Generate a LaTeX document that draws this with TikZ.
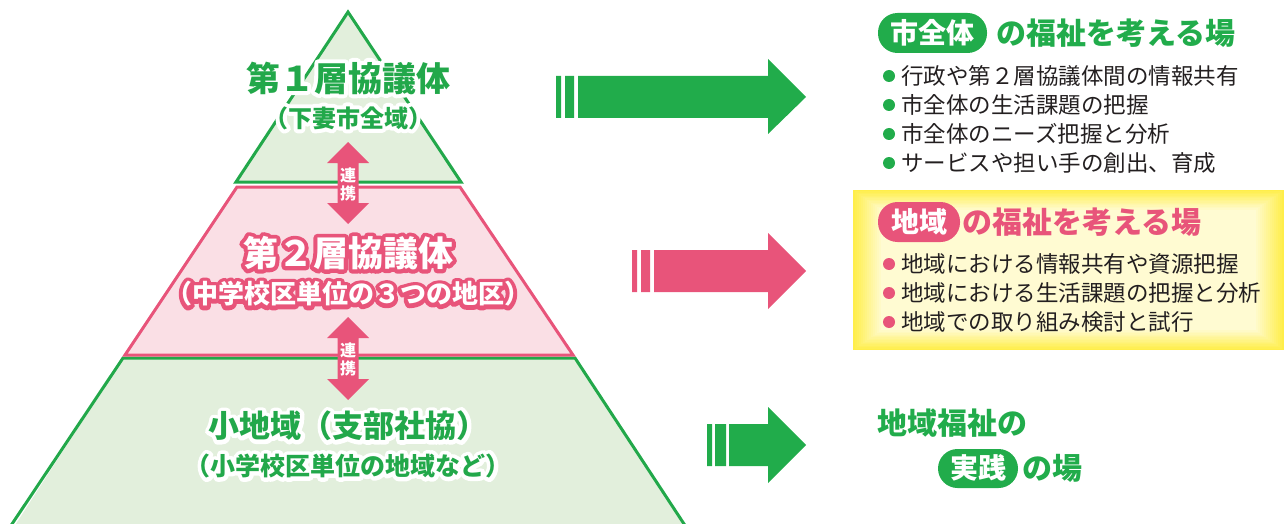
\documentclass[tikz,border=0pt]{standalone}
\usepackage{fontspec}
\newfontfamily\jp{Noto Sans CJK JP}
\usetikzlibrary{calc}
\definecolor{pgreen}{HTML}{22A84A}
\definecolor{agreen}{HTML}{21AC4B}
\definecolor{ppink}{HTML}{E8547A}
\definecolor{lgreen}{HTML}{E2EFDC}
\definecolor{lpink}{HTML}{FADFE5}
\definecolor{txt}{HTML}{231F20}
\definecolor{yedge}{HTML}{FFEE4A}
\definecolor{ycent}{HTML}{FFFBD2}
\newcommand\halonode[7]{%
  \node[text=#3, font=\jp\bfseries\fontsize{#5}{#5}\selectfont] at (#2)
    {\special{pdf:literal direct 1 Tr #7 w 1 j}#6\special{pdf:literal direct 0 Tr}};
  \node[text=#4, font=\jp\bfseries\fontsize{#5}{#5}\selectfont] (#1) at (#2) {#6};}
\begin{document}
\begin{tikzpicture}[x=1pt,y=-1pt, every node/.style={inner sep=0pt},
  layer/.style={line width=3pt, line join=miter},
  bigtitle/.style={font=\jp\bfseries\fontsize{30}{30}\selectfont, anchor=west},
  bullettext/.style={font=\jp\fontsize{22.5}{22.5}\selectfont, text=txt, anchor=west},
  pilltext/.style={font=\jp\bfseries\fontsize{28}{28}\selectfont, text=white},
  renkei/.style={font=\jp\bfseries\fontsize{16}{16}\selectfont, text=white}]
\useasboundingbox (0,0) rectangle (1287,524);

% pyramid layers
\fill[lgreen] (12,530) -- (123,358) -- (575,358) -- (688,530) -- cycle;
\draw[pgreen, layer] (8,530) -- (123,358) -- (575,358) -- (688,530);
\draw[ppink, layer, fill=lpink] (125,355) -- (237,187) -- (460,187) -- (573,355) -- cycle;
\draw[pgreen, layer, fill=lgreen] (348,12) -- (236,182) -- (461,182) -- cycle;

% layer texts
\halonode{l1a}{348,78}{white}{pgreen}{34}{第１層協議体}{8}
\halonode{l1b}{348,118}{white}{pgreen}{24}{（下妻市全域）}{8}
\halonode{l2a}{348,253}{ppink}{white}{35}{第２層協議体}{8}
\halonode{l2b}{348,294}{ppink}{white}{26}{（中学校区単位の３つの地区）}{8}
\halonode{l3a}{348,426}{white}{pgreen}{31}{小地域（支部社協）}{8}
\halonode{l3b}{348,466}{white}{pgreen}{25}{（小学校区単位の地域など）}{8}

% renkei arrows
\fill[ppink] (348,142) -- (369,163) -- (358.5,163) -- (358.5,203) -- (369,203) -- (348,224) -- (327,203) -- (337.5,203) -- (337.5,163) -- (327,163) -- cycle;
\node[renkei] (r1a) at (348,175) {連};
\node[renkei] (r1b) at (348,193) {携};
\fill[ppink] (348,317) -- (369,338) -- (358.5,338) -- (358.5,379) -- (369,379) -- (348,400) -- (327,379) -- (337.5,379) -- (337.5,338) -- (327,338) -- cycle;
\node[renkei] (r2a) at (348,350) {連};
\node[renkei] (r2b) at (348,368) {携};

% big arrows
\fill[agreen] (556,76) rectangle (561,118) (565,76) rectangle (574,118);
\fill[agreen] (578,76) -- (768,76) -- (768,59) -- (806,97) -- (768,134) -- (768,118) -- (578,118) -- cycle;
\fill[ppink] (632,250) rectangle (637,292) (641,250) rectangle (650,292);
\fill[ppink] (654,250) -- (768,250) -- (768,233) -- (806,271) -- (768,309) -- (768,292) -- (654,292) -- cycle;
\fill[agreen] (707,424) rectangle (712,466) (715,424) rectangle (726,466);
\fill[agreen] (729,424) -- (768,424) -- (768,407) -- (806,445) -- (768,483) -- (768,466) -- (729,466) -- cycle;

% panel 1
\fill[agreen, rounded corners=19.5] (878,13) rectangle (987,53);
\node[pilltext] (p1) at (932.5,33) {市全体};
\node[bigtitle, text=agreen] (t1) at (996,33) {の福祉を考える場};
\foreach \y/\t [count=\k] in {76/行政や第２層協議体間の情報共有, 105/市全体の生活課題の把握, 134/市全体のニーズ把握と分析, 163/サービスや担い手の創出、育成}{
  \fill[agreen] (889,\y) circle (6);
  \node[bullettext] (b1\k) at (901,\y) {\t};
}

% panel 2
\foreach \i in {0,...,14}{
  \pgfmathtruncatemacro\p{\i*100/14}
  \fill[ycent!\p!yedge] (853+\i*2,190+\i*1.4) rectangle (1284-\i*2,350-\i*1.4);
}
\fill[ppink, rounded corners=19.5] (878,202) rectangle (960,242);
\node[pilltext] (p2) at (919,222) {地域};
\node[bigtitle, text=ppink] (t2) at (962,222) {の福祉を考える場};
\foreach \y/\t [count=\k] in {264/地域における情報共有や資源把握, 293/地域における生活課題の把握と分析, 322/地域での取り組み検討と試行}{
  \fill[ppink] (889,\y) circle (6);
  \node[bullettext] (b2\k) at (901,\y) {\t};
}

% panel 3
\node[bigtitle, text=agreen] (t3a) at (877,423) {地域福祉の};
\fill[agreen, rounded corners=19.5] (938,449) rectangle (1018,488);
\node[pilltext] (p3) at (978,468) {実践};
\node[bigtitle, text=agreen] (t3b) at (1022,468) {の場};
\end{tikzpicture}
\end{document}
